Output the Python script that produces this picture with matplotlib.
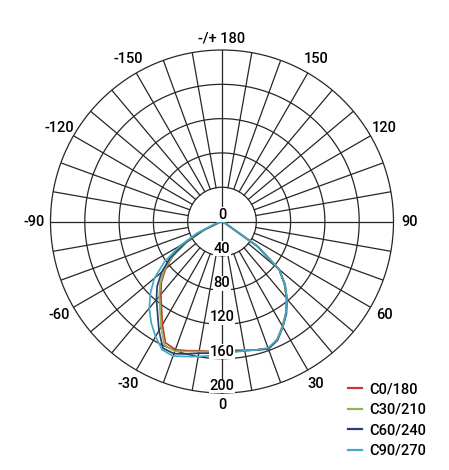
"""Polar light distribution diagram (C-planes)."""

import matplotlib

matplotlib.use("Agg")
import matplotlib.pyplot as plt
import numpy as np

plt.rcParams["font.family"] = ["Roboto", "DejaVu Sans"]

# gamma angles (deg), 0 = straight down
angles = [-90, -85, -80, -75, -70, -65, -60, -55, -50, -45, -40, -35, -30,
          -25, -20, -15, -10, -5, 0, 5, 10, 15, 20, 25, 30, 35, 40, 45, 50,
          55, 60, 65, 70, 75, 80, 85, 90]

# luminous intensity (cd/klm) per C-plane
c0_180 = [0, 0, 0, 1, 3, 22, 47, 70, 86, 100, 111, 123, 139,
          156, 159, 156, 153, 152, 151, 151, 152, 155, 158, 152, 141, 130, 117, 103, 87,
          50, 5, 1, 0, 0, 0, 0, 0]
c30_210 = [0, 0, 0, 1, 4, 24, 48, 71, 88, 102, 114, 126, 142,
           159, 161, 157, 154, 152, 152, 151, 152, 155, 158, 152, 141, 130, 117, 103, 87,
           50, 5, 1, 0, 0, 0, 0, 0]
c60_240 = [0, 0, 0, 2, 6, 26, 50, 74, 92, 107, 119, 131, 147,
           163, 164, 160, 156, 154, 153, 152, 153, 155, 158, 153, 142, 131, 118, 104, 87,
           51, 6, 1, 0, 0, 0, 0, 0]
c90_270 = [0, 0, 1, 3, 10, 32, 56, 82, 103, 118, 132, 144, 155,
           165, 167, 163, 160, 157, 155, 153, 153, 155, 157, 152, 142, 130, 118, 104, 87,
           52, 8, 1, 0, 0, 0, 0, 0]

series = [
    ("C0/180", c0_180, "#c23b37"),
    ("C30/210", c30_210, "#8fb451"),
    ("C60/240", c60_240, "#2d3e72"),
    ("C90/270", c90_270, "#45a8c6"),
]

ring_values = [40, 80, 120, 160, 200]
r_labels = [0, 40, 80, 120, 160, 200]
angle_labels = [
    (180, "-/+ 180"), (150, "150"), (120, "120"), (90, "90"), (60, "60"),
    (30, "30"), (0, "0"), (-30, "-30"), (-60, "-60"), (-90, "-90"),
    (-120, "-120"), (-150, "-150"),
]

GRID = "#262626"
FONT = {"fontsize": 10.5, "fontweight": "medium"}

fig = plt.figure(figsize=(4.49, 4.70), dpi=100)
ax = fig.add_axes([0.1125, 0.1638, 0.7639, 0.7298], projection="polar")
ax.set_theta_zero_location("S")
ax.set_theta_direction(1)
ax.set_ylim(0, 200)
ax.set_xticks([])
ax.set_yticks([])
ax.grid(False)
ax.spines["polar"].set_linewidth(0.9)
ax.spines["polar"].set_color(GRID)

# rings
circ = np.linspace(0, 2 * np.pi, 361)
for r in ring_values[:-1]:
    ax.plot(circ, np.full_like(circ, r), color=GRID, lw=0.9, zorder=1)

# spokes every 10 deg, main axes through the centre
for a in range(0, 360, 10):
    r0 = 0 if a % 90 == 0 else 40
    ax.plot([np.deg2rad(a)] * 2, [r0, 200], color=GRID, lw=0.9, zorder=1)

theta = np.deg2rad(angles)
for name, vals, col in series:
    ax.plot(theta, vals, color=col, lw=1.25, label=name, zorder=3,
            solid_joinstyle="round")

for v in r_labels:
    ax.text(0, v, str(v), ha="center", va="bottom",
            bbox={"fc": "white", "ec": "none", "pad": 0.3}, zorder=4, **FONT)

for a, txt in angle_labels:
    rr = 214 if a in (0, 180) else 219
    ax.text(np.deg2rad(a), rr, txt, ha="center", va="center", clip_on=False,
            **FONT)

leg = ax.legend(loc="upper left", bbox_to_anchor=(0.775, 0.187),
                bbox_transform=fig.transFigure, frameon=False,
                prop={"size": 10.5, "weight": "medium"},
                handlelength=0.95, handletextpad=0.5, borderpad=0,
                borderaxespad=0, labelspacing=0.45)
for line in leg.get_lines():
    line.set_linewidth(1.6)

fig.savefig("out.png", dpi=100, facecolor="white")
